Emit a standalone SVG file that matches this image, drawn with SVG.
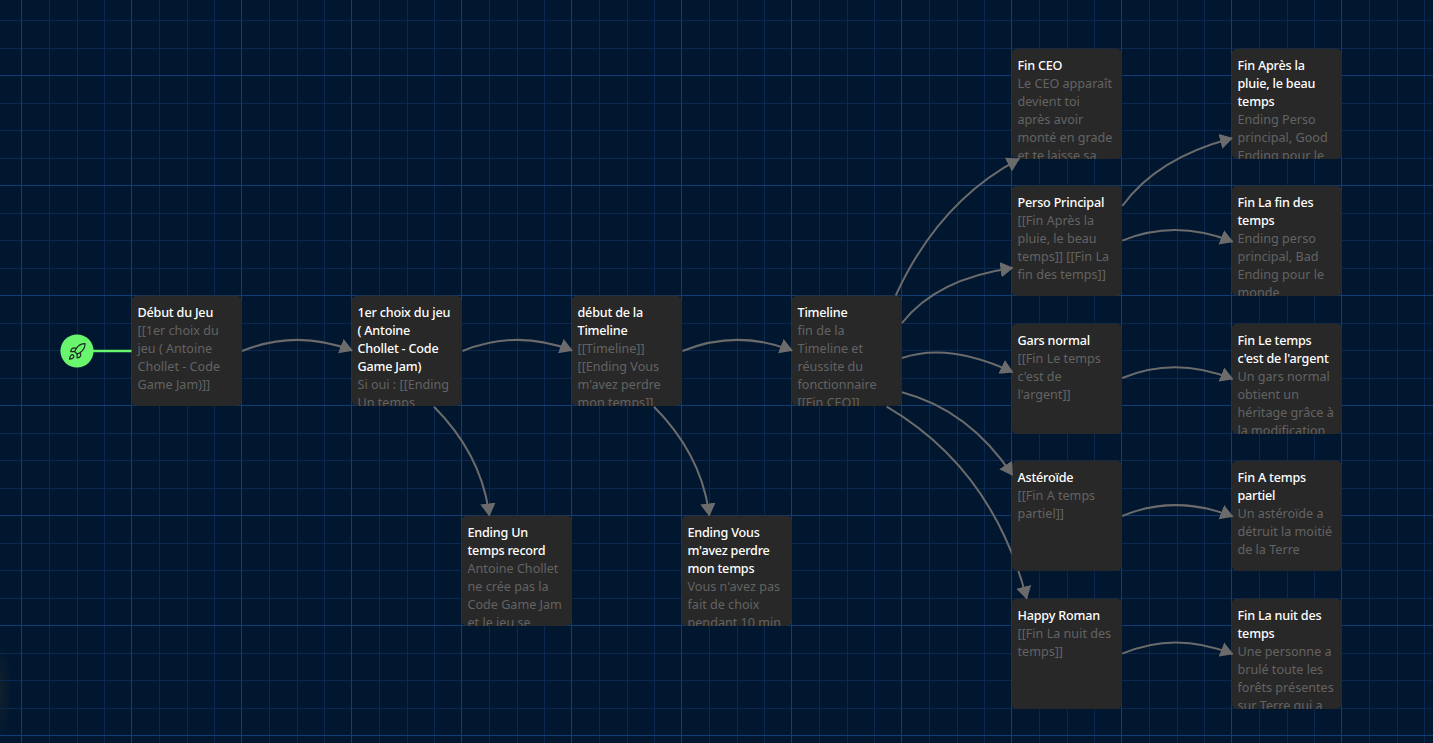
<svg xmlns="http://www.w3.org/2000/svg" width="1433" height="743" viewBox="0 0 1433 743">
<style>
.bg{fill:#011730}
.minor{stroke:#0a2850;stroke-width:1;fill:none}
.major{stroke:#113c74;stroke-width:1;fill:none}
.node{fill:#282828}
text{font-family:"Noto Sans","Open Sans","Liberation Sans",sans-serif;font-size:12.6px}
.t{fill:#fff;font-weight:500;letter-spacing:-0.2px}
.b{fill:#636363}
.edge{fill:none;stroke:#6b6b6b;stroke-width:2;marker-end:url(#arrow)}
.start{stroke:#69f56e;stroke-width:2.6;fill:none}
.rocket{fill:none;stroke:#1f2a22;stroke-width:1.5;stroke-linecap:round;stroke-linejoin:round}
</style>
<defs>
<marker id="arrow" markerUnits="userSpaceOnUse" markerWidth="16" markerHeight="16" viewBox="0 0 16 16" refX="12" refY="8" orient="auto"><path d="M0 0.3L13 8L0 15.7Z" fill="#6b6b6b"/></marker>
<clipPath id="c"><rect width="110.5" height="110.5" rx="6"/></clipPath>
<clipPath id="notAst"><path clip-rule="evenodd" d="M0 0H1433V743H0ZM1011.5 460.5H1122V571H1011.5Z"/></clipPath>
<radialGradient id="glow"><stop offset="0" stop-color="#6a5a20" stop-opacity="0.15"/><stop offset="1" stop-color="#6a5a20" stop-opacity="0"/></radialGradient>
</defs>
<rect class="bg" width="1433" height="743"/>
<ellipse cx="0" cy="690" rx="12" ry="50" fill="url(#glow)"/>
<path class="minor" d="M49.5 0V743M77.5 0V743M104.5 0V743M159.5 0V743M187.5 0V743M214.5 0V743M269.5 0V743M297.5 0V743M324.5 0V743M379.5 0V743M407.5 0V743M434.5 0V743M489.5 0V743M517.5 0V743M544.5 0V743M599.5 0V743M627.5 0V743M654.5 0V743M709.5 0V743M737.5 0V743M764.5 0V743M819.5 0V743M847.5 0V743M874.5 0V743M929.5 0V743M957.5 0V743M984.5 0V743M1039.5 0V743M1067.5 0V743M1094.5 0V743M1149.5 0V743M1177.5 0V743M1204.5 0V743M1259.5 0V743M1287.5 0V743M1314.5 0V743M1369.5 0V743M1397.5 0V743M1424.5 0V743M0 20.5H1433M0 48.5H1433M0 103.5H1433M0 130.5H1433M0 158.5H1433M0 213.5H1433M0 240.5H1433M0 268.5H1433M0 323.5H1433M0 350.5H1433M0 378.5H1433M0 433.5H1433M0 460.5H1433M0 488.5H1433M0 543.5H1433M0 570.5H1433M0 598.5H1433M0 653.5H1433M0 680.5H1433M0 708.5H1433"/>
<path class="major" d="M21.5 0V743M131.5 0V743M241.5 0V743M351.5 0V743M461.5 0V743M571.5 0V743M681.5 0V743M791.5 0V743M901.5 0V743M1011.5 0V743M1121.5 0V743M1231.5 0V743M1341.5 0V743M0 75.5H1433M0 185.5H1433M0 295.5H1433M0 405.5H1433M0 515.5H1433M0 625.5H1433M0 735.5H1433"/>

<g id="n1" transform="translate(131.5,295.5)"><rect class="node" width="110.5" height="110.5" rx="6"/><g clip-path="url(#c)"><text class="t" x="6" y="21.5">Début du Jeu</text><text class="b" x="6" y="39.5">[[1er choix du</text><text class="b" x="6" y="57.5">jeu ( Antoine</text><text class="b" x="6" y="75.5">Chollet - Code</text><text class="b" x="6" y="93.5">Game Jam)]]</text></g></g>

<g id="n2" transform="translate(351.5,295.5)"><rect class="node" width="110.5" height="110.5" rx="6"/><g clip-path="url(#c)"><text class="t" x="6" y="21.5">1er choix du jeu</text><text class="t" x="6" y="39.5">( Antoine</text><text class="t" x="6" y="57.5">Chollet - Code</text><text class="t" x="6" y="75.5">Game Jam)</text><text class="b" x="6" y="93.5">Si oui : [[Ending</text><text class="b" x="6" y="111.5">Un temps</text></g></g>

<g id="n3" transform="translate(571.5,295.5)"><rect class="node" width="110.5" height="110.5" rx="6"/><g clip-path="url(#c)"><text class="t" x="6" y="21.5">début de la</text><text class="t" x="6" y="39.5">Timeline</text><text class="b" x="6" y="57.5">[[Timeline]]</text><text class="b" x="6" y="75.5">[[Ending Vous</text><text class="b" x="6" y="93.5">m'avez perdre</text><text class="b" x="6" y="111.5">mon temps]]</text></g></g>

<g id="n4" transform="translate(791.5,295.5)"><rect class="node" width="110.5" height="110.5" rx="6"/><g clip-path="url(#c)"><text class="t" x="6" y="21.5">Timeline</text><text class="b" x="6" y="39.5">fin de la</text><text class="b" x="6" y="57.5">Timeline et</text><text class="b" x="6" y="75.5">réussite du</text><text class="b" x="6" y="93.5">fonctionnaire</text><text class="b" x="6" y="111.5">[[Fin CEO]]</text></g></g>

<g id="n5" transform="translate(461.5,515.5)"><rect class="node" width="110.5" height="110.5" rx="6"/><g clip-path="url(#c)"><text class="t" x="6" y="21.5">Ending Un</text><text class="t" x="6" y="39.5">temps record</text><text class="b" x="6" y="57.5">Antoine Chollet</text><text class="b" x="6" y="75.5">ne crée pas la</text><text class="b" x="6" y="93.5">Code Game Jam</text><text class="b" x="6" y="111.5">et le jeu se</text></g></g>

<g id="n6" transform="translate(681.5,515.5)"><rect class="node" width="110.5" height="110.5" rx="6"/><g clip-path="url(#c)"><text class="t" x="6" y="21.5">Ending Vous</text><text class="t" x="6" y="39.5">m'avez perdre</text><text class="t" x="6" y="57.5">mon temps</text><text class="b" x="6" y="75.5">Vous n'avez pas</text><text class="b" x="6" y="93.5">fait de choix</text><text class="b" x="6" y="111.5">pendant 10 min</text></g></g>

<g id="n7" transform="translate(1011.5,48.5)"><rect class="node" width="110.5" height="110.5" rx="6"/><g clip-path="url(#c)"><text class="t" x="6" y="21.5">Fin CEO</text><text class="b" x="6" y="39.5">Le CEO apparaît</text><text class="b" x="6" y="57.5">devient toi</text><text class="b" x="6" y="75.5">après avoir</text><text class="b" x="6" y="93.5">monté en grade</text><text class="b" x="6" y="111.5">et te laisse sa</text></g></g>

<g id="n8" transform="translate(1011.5,185.5)"><rect class="node" width="110.5" height="110.5" rx="6"/><g clip-path="url(#c)"><text class="t" x="6" y="21.5">Perso Principal</text><text class="b" x="6" y="39.5">[[Fin Après la</text><text class="b" x="6" y="57.5">pluie, le beau</text><text class="b" x="6" y="75.5">temps]] [[Fin La</text><text class="b" x="6" y="93.5">fin des temps]]</text></g></g>

<g id="n9" transform="translate(1011.5,323.5)"><rect class="node" width="110.5" height="110.5" rx="6"/><g clip-path="url(#c)"><text class="t" x="6" y="21.5">Gars normal</text><text class="b" x="6" y="39.5">[[Fin Le temps</text><text class="b" x="6" y="57.5">c'est de</text><text class="b" x="6" y="75.5">l'argent]]</text></g></g>

<g id="n10" transform="translate(1011.5,460.5)"><rect class="node" width="110.5" height="110.5" rx="6"/><g clip-path="url(#c)"><text class="t" x="6" y="21.5">Astéroïde</text><text class="b" x="6" y="39.5">[[Fin A temps</text><text class="b" x="6" y="57.5">partiel]]</text></g></g>

<g id="n11" transform="translate(1011.5,598.5)"><rect class="node" width="110.5" height="110.5" rx="6"/><g clip-path="url(#c)"><text class="t" x="6" y="21.5">Happy Roman</text><text class="b" x="6" y="39.5">[[Fin La nuit des</text><text class="b" x="6" y="57.5">temps]]</text></g></g>

<g id="n12" transform="translate(1231.5,48.5)"><rect class="node" width="110.5" height="110.5" rx="6"/><g clip-path="url(#c)"><text class="t" x="6" y="21.5">Fin Après la</text><text class="t" x="6" y="39.5">pluie, le beau</text><text class="t" x="6" y="57.5">temps</text><text class="b" x="6" y="75.5">Ending Perso</text><text class="b" x="6" y="93.5">principal, Good</text><text class="b" x="6" y="111.5">Ending pour le</text></g></g>

<g id="n13" transform="translate(1231.5,185.5)"><rect class="node" width="110.5" height="110.5" rx="6"/><g clip-path="url(#c)"><text class="t" x="6" y="21.5">Fin La fin des</text><text class="t" x="6" y="39.5">temps</text><text class="b" x="6" y="57.5">Ending perso</text><text class="b" x="6" y="75.5">principal, Bad</text><text class="b" x="6" y="93.5">Ending pour le</text><text class="b" x="6" y="111.5">monde</text></g></g>

<g id="n14" transform="translate(1231.5,323.5)"><rect class="node" width="110.5" height="110.5" rx="6"/><g clip-path="url(#c)"><text class="t" x="6" y="21.5">Fin Le temps</text><text class="t" x="6" y="39.5">c'est de l'argent</text><text class="b" x="6" y="57.5">Un gars normal</text><text class="b" x="6" y="75.5">obtient un</text><text class="b" x="6" y="93.5">héritage grâce à</text><text class="b" x="6" y="111.5">la modification</text></g></g>

<g id="n15" transform="translate(1231.5,460.5)"><rect class="node" width="110.5" height="110.5" rx="6"/><g clip-path="url(#c)"><text class="t" x="6" y="21.5">Fin A temps</text><text class="t" x="6" y="39.5">partiel</text><text class="b" x="6" y="57.5">Un astéroïde a</text><text class="b" x="6" y="75.5">détruit la moitié</text><text class="b" x="6" y="93.5">de la Terre</text></g></g>

<g id="n16" transform="translate(1231.5,598.5)"><rect class="node" width="110.5" height="110.5" rx="6"/><g clip-path="url(#c)"><text class="t" x="6" y="21.5">Fin La nuit des</text><text class="t" x="6" y="39.5">temps</text><text class="b" x="6" y="57.5">Une personne a</text><text class="b" x="6" y="75.5">brulé toute les</text><text class="b" x="6" y="93.5">forêts présentes</text><text class="b" x="6" y="111.5">sur Terre qui a</text></g></g>

<g id="connectors">
<path class="start" d="M92 351H131.5"/>
<path class="edge" d="M242 351Q297 329 352 350.5"/>
<path class="edge" d="M462.5 351Q517 329 572 350.5"/>
<path class="edge" d="M682.5 351Q737 329 792 350.5"/>
<path class="edge" d="M434 406.7Q482 455 489.3 515.5"/>
<path class="edge" d="M654 406.7Q702 455 709.3 515.5"/>
<path class="edge" d="M895.7 295.5Q939 201 1019 159"/>
<path class="edge" d="M902 323Q937 278.5 1012.5 268"/>
<path class="edge" d="M902 358Q948 342 1012.5 372"/>
<path class="edge" d="M902 392.3Q969 410 1012.3 475"/>
<path class="edge" clip-path="url(#notAst)" d="M886.7 406.7Q993 469 1026.7 598.5"/>
<path class="edge" d="M1122.3 206Q1157 158 1232 138.3"/>
<path class="edge" d="M1122.3 240.7Q1175 219 1232.5 241.7"/>
<path class="edge" d="M1122.3 378Q1175 356 1232.5 379"/>
<path class="edge" d="M1122.3 516Q1175 494 1232.5 516.5"/>
<path class="edge" d="M1122.3 653.7Q1175 631 1232.5 654"/>
</g>

<g id="start">
<circle cx="77" cy="351" r="16.6" fill="#69f56e"/>
<g class="rocket" transform="translate(67.5,342) scale(0.8)">
<path d="M4.5 16.5c-1.5 1.26-2 5-2 5s3.74-.5 5-2c.71-.84.7-2.13-.09-2.91a2.18 2.18 0 0 0-2.91-.09z"/>
<path d="m12 15-3-3a22 22 0 0 1 2-3.95A12.88 12.88 0 0 1 22 2c0 2.72-.78 7.5-6 11a22.35 22.35 0 0 1-4 2z"/>
<path d="M9 12H4s.55-3.03 2-4c1.62-1.08 5 0 5 0"/>
<path d="M12 15v5s3.03-.55 4-2c1.08-1.62 0-5 0-5"/>
</g>
</g>
</svg>
